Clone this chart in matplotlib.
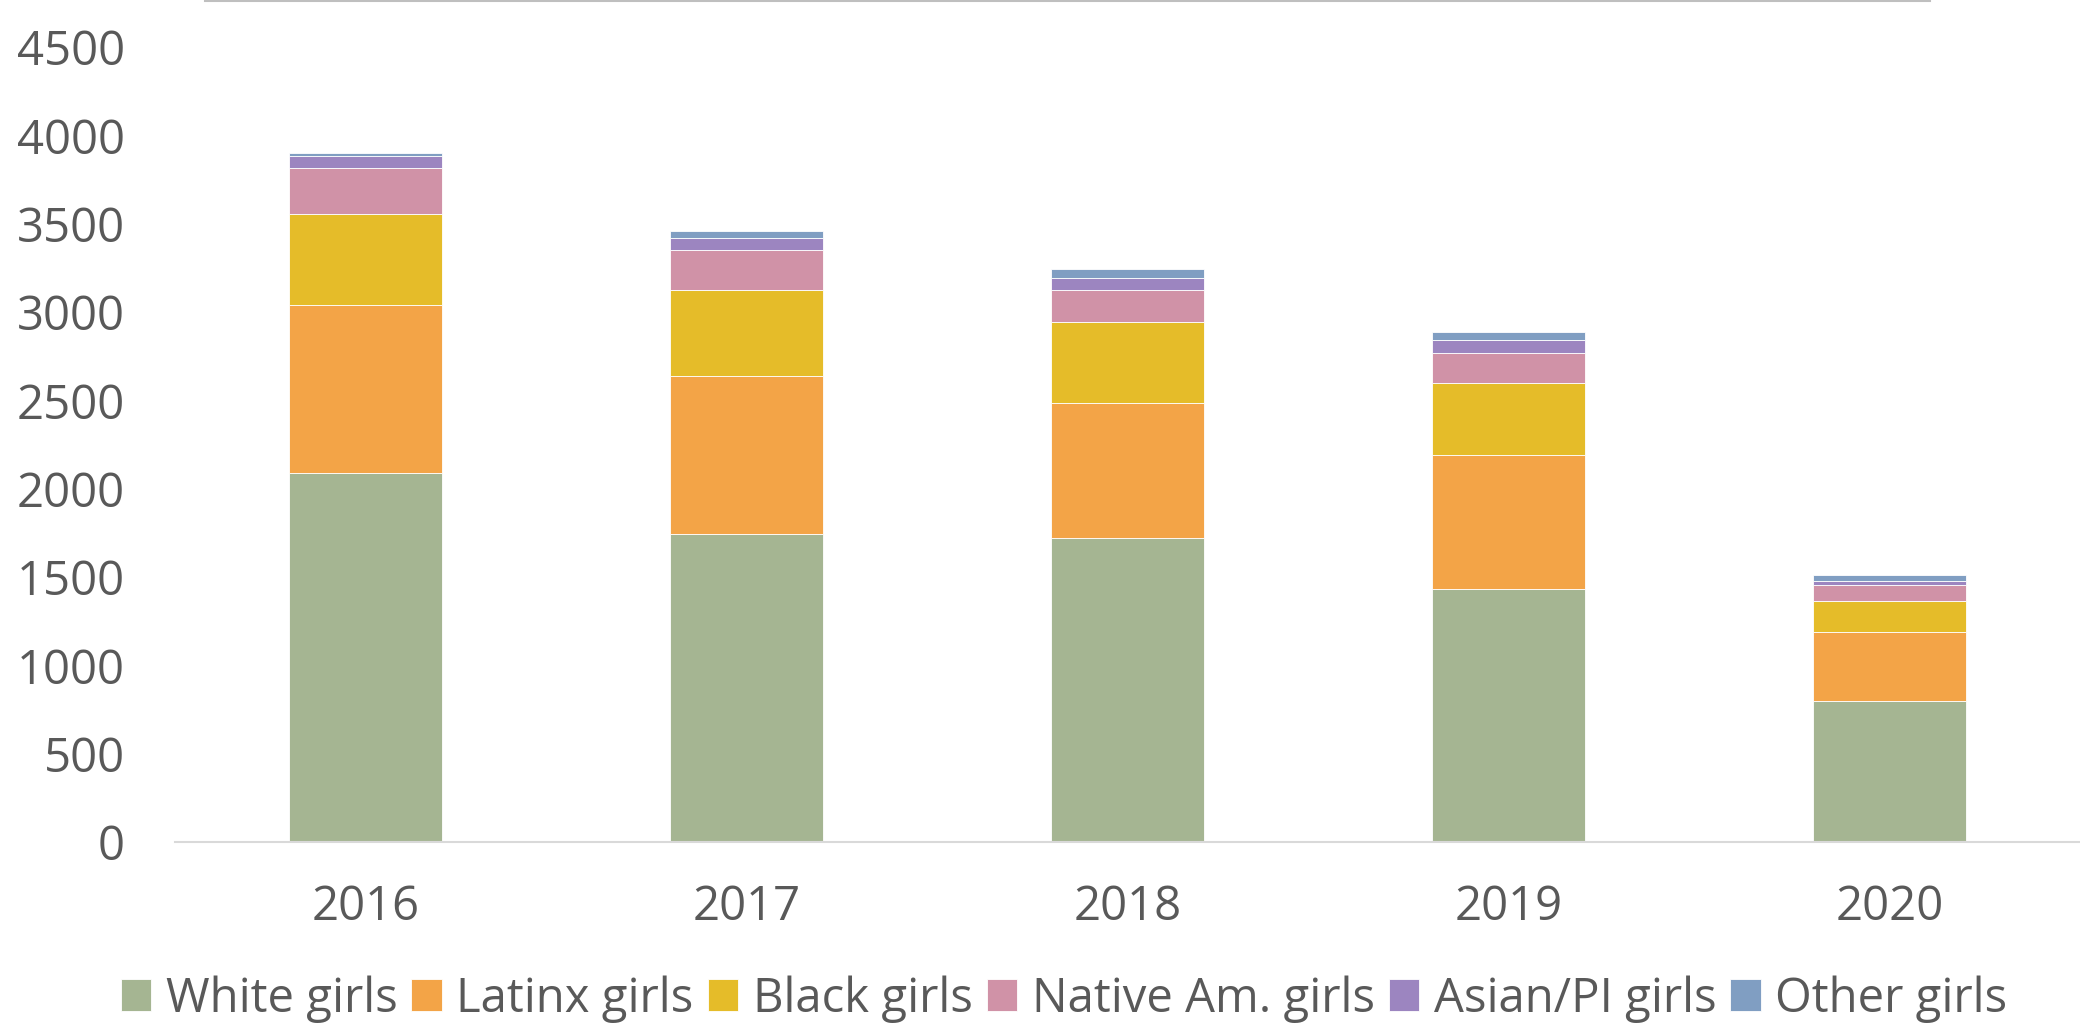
import matplotlib
matplotlib.use("Agg")
import matplotlib.pyplot as plt
from matplotlib.lines import Line2D
import numpy as np

years = ["2016", "2017", "2018", "2019", "2020"]
series_names = ["White girls", "Latinx girls", "Black girls", "Native Am. girls", "Asian/PI girls", "Other girls"]
white = [2088, 1744, 1720, 1431, 799]
latinx = [953, 895, 765, 761, 390]
black = [516, 486, 456, 408, 176]
native = [259, 226, 184, 170, 87]
asian = [68, 66, 68, 71, 28]
other = [17, 44, 52, 46, 31]
colors = ["#A5B592", "#F3A447", "#E5BC29", "#D092A7", "#9C85C0", "#809EC2"]
yticks = [0, 500, 1000, 1500, 2000, 2500, 3000, 3500, 4000, 4500]

plt.rcParams['font.family'] = ['Open Sans', 'DejaVu Sans']
text_color = "#595959"

fig = plt.figure(figsize=(20.8, 10.29), dpi=100)
ax = fig.add_axes([175/2080, 1-842/1029, 1-175/2080, (842-47)/1029])

x = np.arange(len(years))
bottom = np.zeros(len(years))
for name, vals, c in zip(series_names, [white, latinx, black, native, asian, other], colors):
    ax.bar(x, vals, width=0.40, bottom=bottom, color=c, edgecolor="white", linewidth=0.6, label=name)
    bottom += np.array(vals)

ax.set_xlim(-0.5, len(years)-0.5)
ax.set_ylim(0, 4500)
ax.set_yticks(yticks)
ax.set_yticklabels([str(t) for t in yticks])
ax.set_xticks(x)
ax.set_xticklabels(years)
for s in ["top", "right", "left"]:
    ax.spines[s].set_visible(False)
ax.spines["bottom"].set_color("#D9D9D9")
ax.spines["bottom"].set_linewidth(1.5)
ax.tick_params(axis="both", length=0, labelsize=34, colors=text_color)
ax.tick_params(axis="y", pad=36)
ax.tick_params(axis="x", pad=30)

leg = fig.legend(loc="center", bbox_to_anchor=(1064/2080, 1-999/1029), ncol=6, frameon=False,
                 fontsize=34, handlelength=0.65, handleheight=0.65, handletextpad=0.3,
                 columnspacing=0.3, borderaxespad=0)
for t in leg.get_texts():
    t.set_color(text_color)

fig.add_artist(Line2D([205/2080, 1930/2080], [1-1/1029, 1-1/1029], transform=fig.transFigure,
                      color="#BFBFBF", linewidth=1.5))

fig.savefig("out.png", dpi=100)
